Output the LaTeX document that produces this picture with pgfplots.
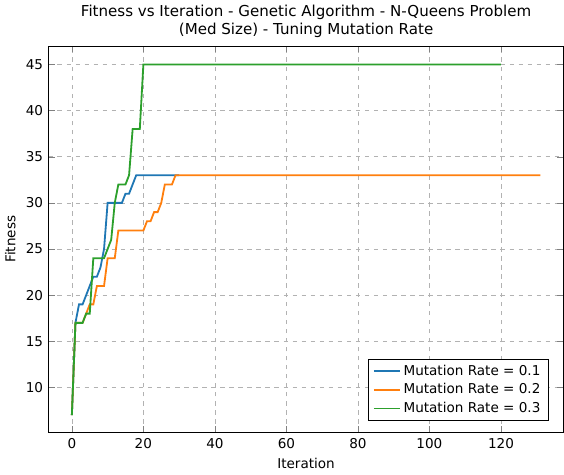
\documentclass[border=0pt]{standalone}
\usepackage{pgfplots}
\pgfplotsset{compat=1.18}
\usepackage{fontspec}
\setmainfont{DejaVu Sans}
\definecolor{c1}{HTML}{1F77B4}
\definecolor{c2}{HTML}{FF7F0E}
\definecolor{c3}{HTML}{2CA02C}
\begin{document}
\begin{tikzpicture}
\begin{axis}[
 width=13.6cm, height=10.6cm,
 xmin=-6.55, xmax=137.55, ymin=5.1, ymax=47,
 xtick={0,20,...,120}, ytick={10,15,...,45},
 grid=major, grid style={dashed, gray!60},
 title={Fitness vs Iteration - Genetic Algorithm - N-Queens Problem\\(Med Size) - Tuning Mutation Rate},
 title style={align=center, font=\normalsize, yshift=-4pt},
 xlabel={Iteration}, ylabel={Fitness},
 ticklabel style={font=\small}, label style={font=\small},
 /pgf/number format/assume math mode=true,
 legend pos=south east, legend style={font=\small, cells={anchor=west}},
 legend cell align=left,
]
\addplot[c1, line width=1.2pt] coordinates {(0,7)(1,17)(2,19)(3,19)(4,20)(5,21)(6,22)(7,22)(8,23)(9,25)(10,30)(11,30)(12,30)(13,30)(14,30)(15,31)(16,31)(17,32)(18,33)(30,33)};
\addlegendentry{Mutation Rate = 0.1}
\addplot[c2, line width=1.2pt] coordinates {(0,7)(1,17)(2,17)(3,17)(4,18)(5,19)(6,19)(7,21)(8,21)(9,21)(10,24)(11,24)(12,24)(13,27)(20,27)(21,28)(22,28)(23,29)(24,29)(25,30)(26,32)(27,32)(28,32)(29,33)(131,33)};
\addlegendentry{Mutation Rate = 0.2}
\addplot[c3, line width=1.2pt] coordinates {(0,7)(1,17)(2,17)(3,17)(4,18)(5,18)(6,24)(7,24)(8,24)(9,24)(10,25)(11,26)(12,30)(13,32)(14,32)(15,32)(16,33)(17,38)(18,38)(19,38)(20,45)(120,45)};
\addlegendentry{Mutation Rate = 0.3}
\end{axis}
\end{tikzpicture}
\end{document}
